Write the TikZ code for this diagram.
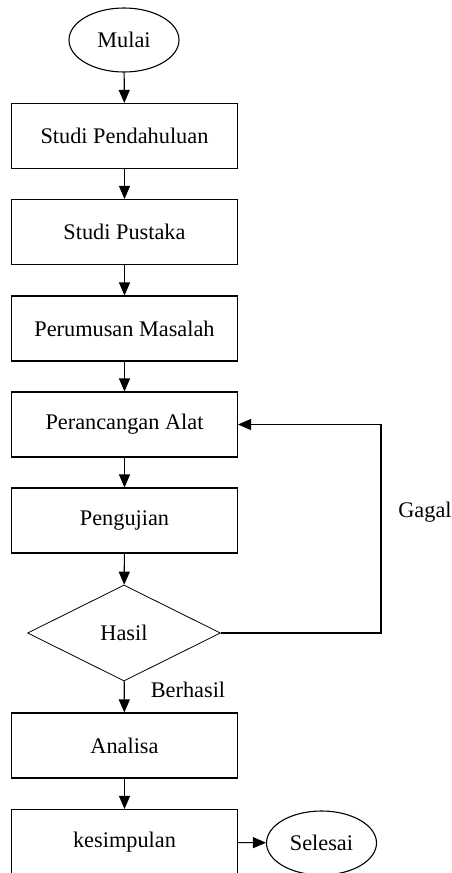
\documentclass[tikz,border=0pt]{standalone}
\usepackage{fontspec}
\setmainfont{Liberation Serif}
\usetikzlibrary{shapes.geometric,arrows.meta}
\tikzset{
  stepbox/.style={draw, line width=1.1pt, minimum width=226pt, minimum height=65pt, inner sep=0pt, font=\fontsize{22.3}{26}\selectfont},
  term/.style={draw, ellipse, line width=1.1pt, minimum width=110pt, minimum height=64pt, inner sep=0pt, font=\fontsize{22.3}{26}\selectfont},
  decide/.style={draw, diamond, line width=0.8pt, minimum width=193pt, minimum height=96pt, aspect=2, inner sep=0pt, font=\fontsize{22.3}{26}\selectfont},
  lbl/.style={inner sep=0pt, font=\fontsize{22.3}{26}\selectfont},
  flow/.style={line width=1.1pt, -{Triangle[length=13pt,width=11pt]}}
}
\begin{document}
\begin{tikzpicture}[x=1pt,y=-1pt]
\useasboundingbox (0,0) rectangle (451,873);
\clip (0,0) rectangle (451,873);
\fill[white] (0,0) rectangle (451,873);
\node[term] (mulai) at (124,40) {Mulai};
\node[stepbox] (b1) at (124.5,136) {Studi Pendahuluan};
\node[stepbox] (b2) at (124.5,232) {Studi Pustaka};
\node[stepbox] (b3) at (124.5,328.5) {Perumusan Masalah};
\node[stepbox] (b4) at (124.5,424.5) {Perancangan Alat};
\node[stepbox] (b5) at (124.5,520.5) {Pengujian};
\node[decide] (d) at (124,633) {Hasil};
\node[stepbox] (b6) at (124.5,745.5) {Analisa};
\node[stepbox] (b7) at (124.5,842) {kesimpulan};
\node[term] (selesai) at (321.5,843) {Selesai};
\node[lbl] (berhasil) at (188,690) {Berhasil};
\node[lbl] (gagal) at (425,512) {Gagal};
\coordinate (g) at (381,424.5);
\draw[flow] (mulai) -- (b1);
\draw[flow] (b1) -- (b2);
\draw[flow] (b2) -- (b3);
\draw[flow] (b3) -- (b4);
\draw[flow] (b4) -- (b5);
\draw[flow] (b5) -- (d);
\draw[flow] (d) -- (b6);
\draw[flow] (b6) -- (b7);
\draw[flow] (b7) -- (selesai);
\draw[flow] (d.east) -| (g) -- (b4.east);
\end{tikzpicture}
\end{document}
